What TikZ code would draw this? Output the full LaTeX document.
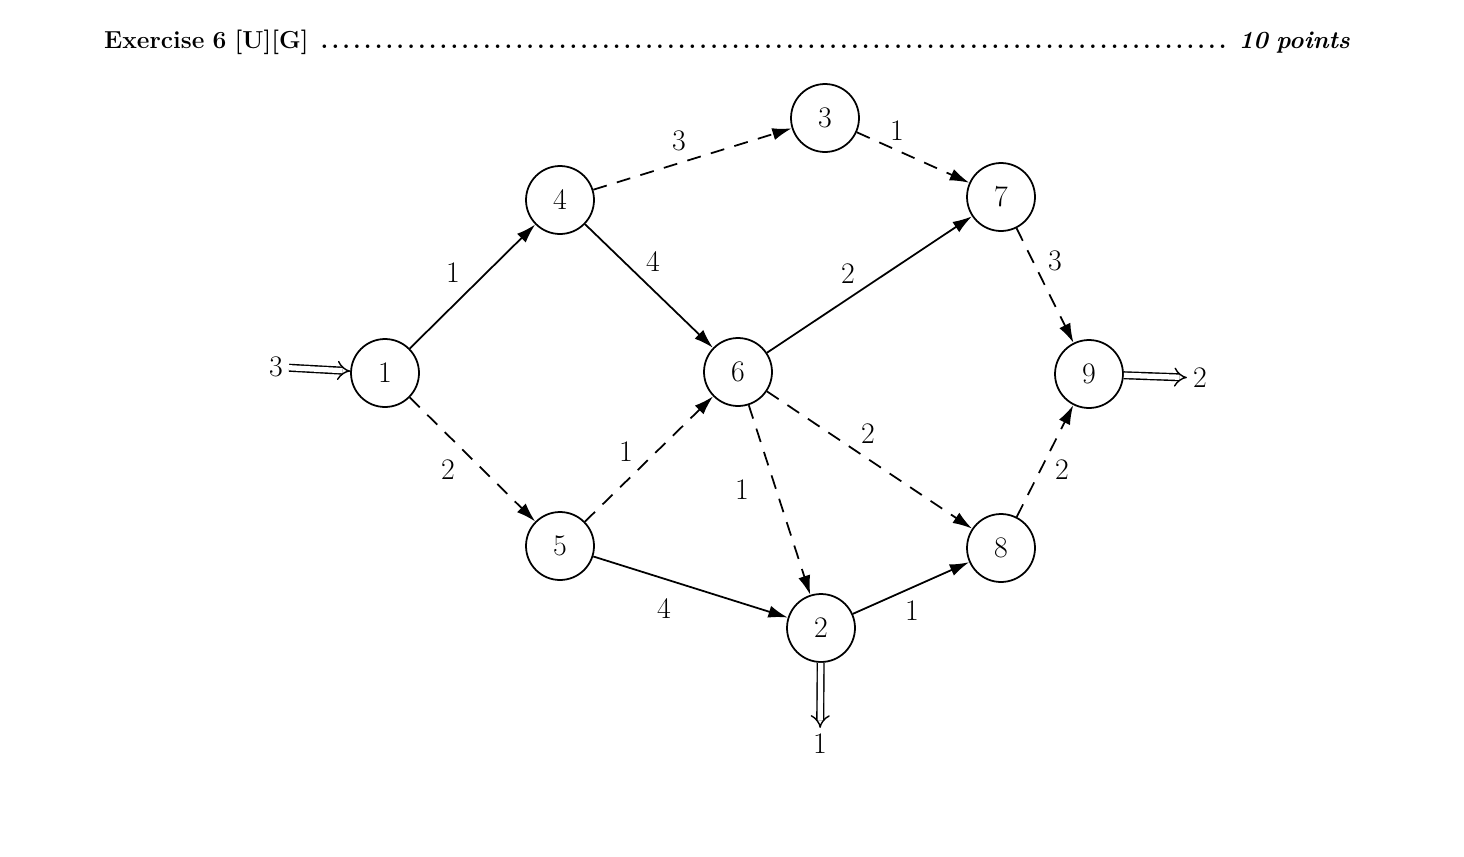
\documentclass[tikz,border=0pt]{standalone}
\usetikzlibrary{arrows.meta}
\begin{document}
\begin{tikzpicture}[x=0.02cm,y=-0.02cm,
  vtx/.style={circle,draw,line width=1pt,minimum size=1.36cm,inner sep=0pt,font=\fontsize{17}{20}\selectfont},
  lbl/.style={font=\fontsize{17}{20}\selectfont},
  edge/.style={line width=1pt,-{Latex[length=11pt,width=7pt]}},
  dsh/.style={edge,dash pattern=on 8pt off 6pt},
  dbl/.style={double,double distance=3pt,line width=0.8pt,-{Implies}}]
\useasboundingbox (0,0) rectangle (1464,856);
\node[anchor=west,text width=24.92cm,font=\fontsize{14}{16}\selectfont] (title) at (98,42)
  {\textbf{Exercise 6 [U][G]}\ \textbf{\dotfill}\ \textbf{\textit{10 points}}};
\node[vtx] (n1) at (385,373) {1};
\node[vtx] (n4) at (560,200) {4};
\node[vtx] (n3) at (825,118) {3};
\node[vtx] (n7) at (1001,197) {7};
\node[vtx] (n6) at (738,372) {6};
\node[vtx] (n9) at (1089,374) {9};
\node[vtx] (n5) at (560,546) {5};
\node[vtx] (n2) at (821,628) {2};
\node[vtx] (n8) at (1001,548) {8};
\draw[edge] (n1) -- (n4);
\draw[dsh] (n4) -- (n3);
\draw[dsh] (n3) -- (n7);
\draw[edge] (n4) -- (n6);
\draw[edge] (n6) -- (n7);
\draw[dsh] (n7) -- (n9);
\draw[dsh] (n1) -- (n5);
\draw[dsh] (n5) -- (n6);
\draw[dsh] (n6) -- (n2);
\draw[dsh] (n6) -- (n8);
\draw[edge] (n5) -- (n2);
\draw[edge] (n2) -- (n8);
\draw[dsh] (n8) -- (n9);
\node[lbl] at (453,273) {1};
\node[lbl] at (679,141) {3};
\node[lbl] at (897,131) {1};
\node[lbl] at (653,262) {4};
\node[lbl] at (848,274) {2};
\node[lbl] at (1055,261) {3};
\node[lbl] at (448,470) {2};
\node[lbl] at (626,452) {1};
\node[lbl] at (742,490) {1};
\node[lbl] at (868,434) {2};
\node[lbl] at (664,608) {4};
\node[lbl] at (912,611) {1};
\node[lbl] at (1062,470) {2};
\node[lbl] (in1) at (276,367) {3};
\node[lbl] (out9) at (1200,378) {2};
\node[lbl] (out2) at (820,744) {1};
\draw[dbl] (in1) -- (n1);
\draw[dbl] (n9) -- (out9);
\draw[dbl] (n2) -- (out2);
\end{tikzpicture}
\end{document}
